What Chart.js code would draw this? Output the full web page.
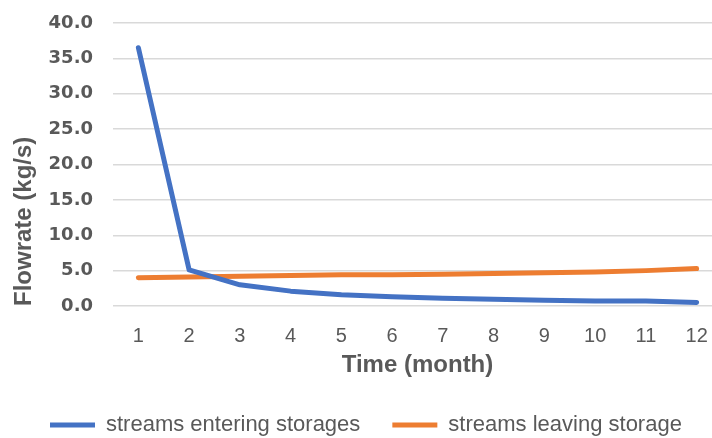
<!DOCTYPE html>
<html lang="en">
<head>
    <meta charset="UTF-8">
    <title>Flowrate</title>
    <script src="https://cdn.jsdelivr.net/npm/chart.js"></script>
    <style>
        html, body { margin: 0; padding: 0; overflow: hidden; background: #fff; }
        canvas { display: block; }
    </style>
</head>
<body>
    <canvas id="flow-chart" width="722" height="446"></canvas>

    <script>
        // values
        const months = ['1', '2', '3', '4', '5', '6', '7', '8', '9', '10', '11', '12'];
        const entering = [36.5, 5.1, 3.0, 2.1, 1.6, 1.3, 1.1, 0.95, 0.8, 0.7, 0.7, 0.5];
        const leaving = [4.0, 4.1, 4.2, 4.3, 4.4, 4.4, 4.5, 4.6, 4.7, 4.8, 5.0, 5.3];

        const textGrey = '#595959';

        const ctx = document.getElementById('flow-chart').getContext('2d');
        new Chart(ctx, {
            type: 'line',
            data: {
                labels: months,
                datasets: [{
                    label: 'streams entering storages',
                    data: entering,
                    borderColor: '#4472C4',
                    backgroundColor: '#4472C4',
                    borderWidth: 5,
                    borderCapStyle: 'round',
                    borderJoinStyle: 'round',
                    pointRadius: 0,
                    tension: 0
                }, {
                    label: 'streams leaving storage',
                    data: leaving,
                    borderColor: '#ED7D31',
                    backgroundColor: '#ED7D31',
                    borderWidth: 5,
                    borderCapStyle: 'round',
                    borderJoinStyle: 'round',
                    pointRadius: 0,
                    tension: 0
                }]
            },
            options: {
                responsive: false,
                animation: false,
                devicePixelRatio: 1,
                layout: { padding: { top: 23, left: 18, right: 0, bottom: 0 } },
                plugins: {
                    tooltip: { enabled: false },
                    legend: {
                        position: 'bottom',
                        align: 'start',
                        labels: {
                            usePointStyle: true,
                            pointStyle: 'line',
                            pointStyleWidth: 45,
                            padding: 32,
                            color: textGrey,
                            font: { family: 'Liberation Sans', size: 22 }
                        }
                    }
                },
                scales: {
                    x: {
                        offset: true,
                        grid: { display: false },
                        border: { display: false },
                        ticks: {
                            padding: 10,
                            color: textGrey,
                            font: { family: 'Liberation Sans', size: 20 }
                        },
                        title: {
                            display: true,
                            text: 'Time (month)',
                            color: textGrey,
                            font: { family: 'Liberation Sans', size: 24, weight: 'bold' },
                            padding: { top: 0, bottom: 2 }
                        },
                        afterFit: (scale) => {
                            scale.height = 76;
                            scale.paddingLeft = 0;
                            scale.paddingRight = 0;
                        }
                    },
                    y: {
                        min: 0,
                        max: 40,
                        grid: { color: '#d9d9d9', lineWidth: 1.5, drawTicks: false },
                        border: { display: false },
                        ticks: {
                            stepSize: 5,
                            padding: 20,
                            color: textGrey,
                            font: { family: 'DejaVu Sans', size: 18, weight: 'bold' },
                            callback: (v) => v.toFixed(1)
                        },
                        title: {
                            display: true,
                            text: 'Flowrate (kg/s)',
                            align: 'start',
                            color: textGrey,
                            font: { family: 'Liberation Sans', size: 24, weight: 'bold' },
                            padding: { top: -8, bottom: 0 }
                        },
                        afterFit: (scale) => {
                            scale.width = 95;
                            scale.paddingTop = 0;
                            scale.paddingBottom = 0;
                        }
                    }
                }
            }
        });
    </script>
</body>
</html>
